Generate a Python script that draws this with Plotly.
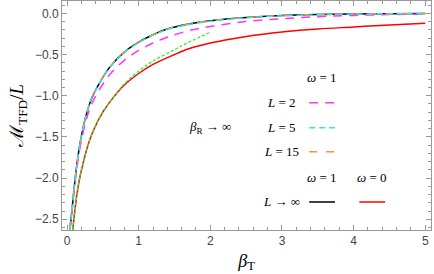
import plotly.graph_objects as go

# ---- data ----
bt_black = [0.04, 0.07, 0.10, 0.14, 0.19, 0.26, 0.34, 0.45, 0.60, 0.80, 1.0, 1.2, 1.4, 1.7, 2.0, 2.5, 3.0, 3.5, 4.0, 4.5, 5.0]
m_black = [-2.63, -2.38, -2.12, -1.82, -1.54, -1.26, -1.04, -0.85, -0.65, -0.47, -0.35, -0.26, -0.19, -0.13, -0.09, -0.05, -0.027, -0.015, -0.008, -0.005, -0.003]

bt_L2 = [0.04, 0.07, 0.10, 0.14, 0.19, 0.26, 0.34, 0.45, 0.60, 0.80, 1.0, 1.2, 1.4, 1.7, 2.0, 2.5, 3.0, 3.5, 4.0, 4.5, 5.0]
m_L2 = [-2.63, -2.40, -2.15, -1.86, -1.59, -1.32, -1.11, -0.93, -0.74, -0.57, -0.45, -0.36, -0.29, -0.21, -0.16, -0.10, -0.065, -0.04, -0.025, -0.015, -0.01]

bt_L5 = [0.04, 0.07, 0.10, 0.14, 0.19, 0.26, 0.34, 0.45, 0.60, 0.80, 1.0, 1.2, 1.4, 1.7, 2.0, 2.5, 3.0, 3.5, 4.0, 4.5, 5.0]
m_L5 = [-2.63, -2.38, -2.12, -1.82, -1.54, -1.26, -1.04, -0.85, -0.655, -0.475, -0.355, -0.265, -0.195, -0.135, -0.095, -0.053, -0.03, -0.017, -0.009, -0.005, -0.003]

bt_L15 = [0.04, 0.07, 0.10, 0.14, 0.19, 0.26, 0.34, 0.45, 0.60, 0.80, 1.0, 1.2, 1.4, 1.7, 2.0, 2.5, 3.0, 3.5, 4.0, 4.5, 5.0]
m_L15 = [-2.63, -2.38, -2.12, -1.82, -1.54, -1.26, -1.04, -0.85, -0.65, -0.47, -0.35, -0.26, -0.19, -0.13, -0.09, -0.05, -0.027, -0.015, -0.008, -0.005, -0.003]

bt_red = [0.08, 0.10, 0.13, 0.17, 0.23, 0.30, 0.39, 0.50, 0.62, 0.80, 1.0, 1.2, 1.5, 1.7, 2.0, 2.5, 3.0, 3.5, 4.0, 4.5, 5.0]
m_red = [-2.63, -2.47, -2.25, -2.03, -1.80, -1.58, -1.38, -1.20, -1.05, -0.87, -0.73, -0.62, -0.50, -0.43, -0.36, -0.28, -0.225, -0.19, -0.165, -0.14, -0.12]

bt_green = [0.08, 0.10, 0.13, 0.17, 0.23, 0.30, 0.39, 0.50, 0.62, 0.80, 1.0, 1.2, 1.5, 1.7, 2.0]
m_green = [-2.63, -2.47, -2.25, -2.03, -1.80, -1.58, -1.38, -1.20, -1.05, -0.855, -0.70, -0.58, -0.44, -0.35, -0.23]

x_ticks = [0, 1, 2, 3, 4, 5]
y_ticks = [0.0, -0.5, -1.0, -1.5, -2.0, -2.5]

fig = go.Figure()

def add(x, y, color, dash, width=1.5, shape="spline"):
    fig.add_trace(go.Scatter(x=x, y=y, mode="lines", line=dict(color=color, width=width, dash=dash, shape=shape, smoothing=1.0), showlegend=False, hoverinfo="skip"))

add(bt_red, m_red, "#ff0000", "solid")
add(bt_green, m_green, "#33ee33", "3px,2px", 1.3)
add(bt_black, m_black, "#000000", "solid")
add(bt_L2, m_L2, "#ff33ff", "9px,7px")
add(bt_L15, m_L15, "#f0953a", "8px,9px")
add(bt_L5, m_L5, "#33e6e6", "6px,4px")

serif = "Liberation Serif"
txt_font = dict(family=serif, size=13, color="#000")

def label(x, y, text):
    fig.add_annotation(x=x, y=y, xref="x", yref="y", text=text, showarrow=False, font=txt_font, xanchor="center", yanchor="middle")

label(3.56, -0.78, "<i>ω</i> = 1")
label(3.0, -1.085, "<i>L</i> = 2")
label(2.0, -1.39, "<i>β</i><sub>R</sub> → ∞")
label(3.0, -1.39, "<i>L</i> = 5")
label(3.0, -1.68, "<i>L</i> = 15")
label(3.56, -1.99, "<i>ω</i> = 1")
label(4.26, -1.99, "<i>ω</i> = 0")
label(3.0, -2.29, "<i>L</i> → ∞")

def sample(x0, x1, y, color, dash):
    fig.add_shape(type="line", x0=x0, x1=x1, y0=y, y1=y, xref="x", yref="y", line=dict(color=color, width=1.5, dash=dash))

sample(3.38, 3.74, -1.085, "#ff33ff", "9px,7px")
sample(3.38, 3.74, -1.39, "#33e6e6", "6px,4px")
sample(3.38, 3.74, -1.68, "#f0953a", "8px,9px")
sample(3.38, 3.74, -2.29, "#000000", "solid")
sample(4.08, 4.44, -2.29, "#ff0000", "solid")

axis_common = dict(
    showline=True, linecolor="#999", linewidth=1, mirror="ticks",
    ticks="inside", ticklen=5, tickcolor="#999", showgrid=False, zeroline=False,
    tickfont=dict(family="Liberation Sans", size=12, color="#444"),
)

fig.update_xaxes(range=[-0.07, 5.08], tickvals=x_ticks, ticktext=[str(v) for v in x_ticks],
                 minor=dict(ticks="inside", ticklen=3, dtick=0.2, tickcolor="#999", showgrid=False),
                 title=dict(text="<i>β</i><sub>T</sub>", font=dict(family=serif, size=18, color="#000"), standoff=6),
                 **axis_common)
fig.update_yaxes(range=[-2.63, 0.15], tickvals=y_ticks, ticktext=[f"{v:.1f}".replace("-", "−") for v in y_ticks],
                 minor=dict(ticks="inside", ticklen=3, dtick=0.1, tickcolor="#999", showgrid=False),
                 title=dict(text="ℳ<sub>TFD</sub>/<i>L</i>", font=dict(family=serif, size=19, color="#000"), standoff=6),
                 **axis_common)

fig.update_layout(width=434, height=274, margin=dict(l=62, r=3, t=1, b=44),
                  plot_bgcolor="white", paper_bgcolor="white")

fig.write_html("out.html", config={"displayModeBar": False},
               post_script="document.body.style.margin='0';document.body.style.overflow='hidden';")
